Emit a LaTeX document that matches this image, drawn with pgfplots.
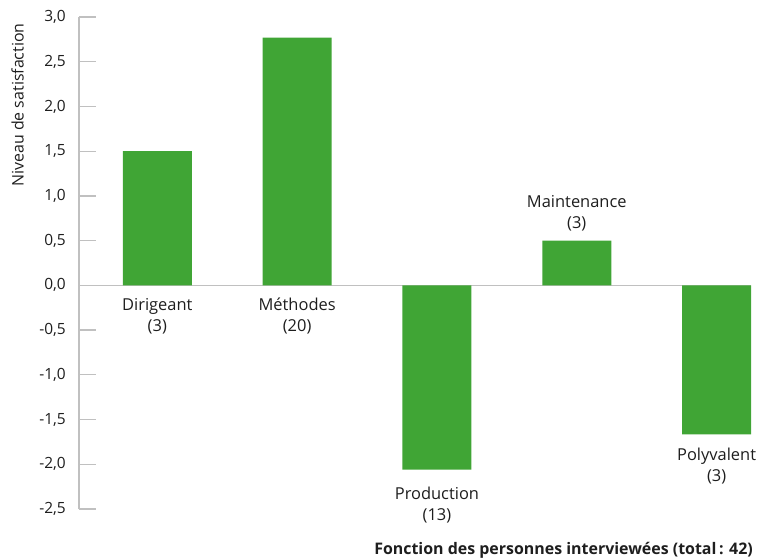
\documentclass[border=0pt]{standalone}
\usepackage{pgfplots}
\pgfplotsset{compat=1.18}
\usepackage{fontspec}
\setmainfont{Open Sans}
\definecolor{barg}{RGB}{64,165,53}
\definecolor{axg}{RGB}{192,192,192}
\definecolor{txt}{RGB}{30,30,30}
\begin{document}
\begin{tikzpicture}
\path[use as bounding box] (0bp,0bp) rectangle (759bp,558bp);
\begin{axis}[
  at={(79bp,49bp)}, anchor=south west,
  scale only axis, width=672bp, height=492bp,
  xmin=-0.56, xmax=4.246, ymin=-2.5, ymax=3,
  axis x line=none, axis y line*=left,
  ybar, bar width=69bp,
  ytick={-2.5,-2,-1.5,-1,-0.5,0,0.5,1,1.5,2,2.5,3},
  ytick align=inside,
  major tick length=17bp,
  y axis line style={axg, line width=1.5bp},
  ytick style={axg, line width=1.3bp},
  yticklabel style={font=\fontsize{15.5}{18}\selectfont, text=txt, anchor=east, inner sep=0pt, xshift=-13bp,
    /pgf/number format/.cd, fixed, fixed zerofill, precision=1, use comma, assume math mode=true},
  extra y ticks={0}, extra y tick labels={},
  extra y tick style={grid=major, major grid style={axg, line width=1.5bp}},
  clip=false,
]
\addplot[fill=barg, draw=none] coordinates {(0,1.50) (1,2.77) (2,-2.06) (3,0.50) (4,-1.665)};
\tikzset{lab/.style={font=\fontsize{16.5}{20}\selectfont, text=txt, anchor=base, inner sep=0pt}}
\node[lab, yshift=-25.3bp] at (axis cs:0,0) {Dirigeant};
\node[lab, yshift=-46.3bp] at (axis cs:0,0) {(3)};
\node[lab, yshift=-25.3bp] at (axis cs:1,0) {Méthodes};
\node[lab, yshift=-46.3bp] at (axis cs:1,0) {(20)};
\node[lab, yshift=-29.7bp] at (axis cs:2,-2.06) {Production};
\node[lab, yshift=-50.7bp] at (axis cs:2,-2.06) {(13)};
\node[lab, yshift=33bp] at (axis cs:3,0.5) {Maintenance};
\node[lab, yshift=12bp] at (axis cs:3,0.5) {(3)};
\node[lab, yshift=-26.3bp] at (axis cs:4,-1.665) {Polyvalent};
\node[lab, yshift=-47.3bp] at (axis cs:4,-1.665) {(3)};
\end{axis}
\node[rotate=90, font=\fontsize{16}{20}\selectfont, text=txt, inner sep=0pt] at (17.5bp,453bp) {Niveau de satisfaction};
\node[anchor=base east, font=\fontsize{16}{18}\selectfont\bfseries, text=txt, inner sep=0pt] at (753bp,3.5bp) {Fonction des personnes interviewées (total\,: 42)};
\end{tikzpicture}
\end{document}
